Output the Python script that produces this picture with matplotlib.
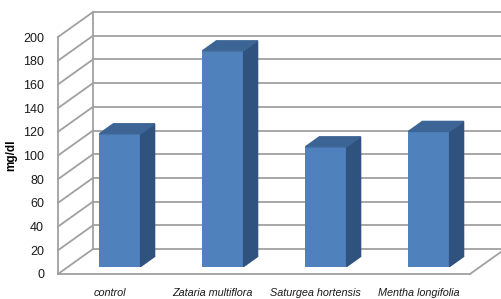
import numpy as np
import matplotlib.pyplot as plt
from matplotlib.patches import Polygon

# data
categories = ['control', 'Zataria multiflora', 'Saturgea hortensis', 'Mentha longifolia']
values = [112, 182, 101, 114]
y_ticks = [0, 20, 40, 60, 80, 100, 120, 140, 160, 180, 200]

plt.rcParams['font.family'] = ['Liberation Sans', 'DejaVu Sans']

W, H = 501, 299
fig = plt.figure(figsize=(W / 100, H / 100), dpi=100)
# front plane of the 3d box
ax = fig.add_axes([58 / W, (H - 274) / H, 412 / W, (274 - 37) / H])
ax.set_xlim(0, 4)
ax.set_ylim(0, 200)

# oblique depth vector (category units, value units)
depth_dx = 35 / 103
depth_dy = 25 / 1.185

grid_c = '#a0a0a0'
lw = 1.3

# back wall horizontal lines + diagonals on the left side wall
for v in y_ticks:
    ax.plot([depth_dx, 4.4], [v + depth_dy, v + depth_dy], color=grid_c, lw=lw,
            clip_on=False, zorder=1)
    ax.plot([0, depth_dx], [v, v + depth_dy], color=grid_c, lw=lw, clip_on=False, zorder=1)
# back wall left edge
ax.plot([depth_dx, depth_dx], [depth_dy, 200 + depth_dy], color=grid_c, lw=lw,
        clip_on=False, zorder=1)
# floor right edge
ax.plot([4, 4 + depth_dx], [0, depth_dy], color=grid_c, lw=lw, clip_on=False, zorder=1)

# 3d bars
bar_w = 0.4
f0, f1 = 0.3, 0.7
front_c, top_c, side_c = '#4F81BD', '#3C6494', '#30527E'
x = np.arange(len(categories)) + 0.5
for xi, v in zip(x, values):
    ox, oy = f0 * depth_dx, f0 * depth_dy
    bx, by = (f1 - f0) * depth_dx, (f1 - f0) * depth_dy
    l, r = xi - bar_w / 2 + ox, xi + bar_w / 2 + ox
    b, t = oy, v + oy
    ax.bar(l, v, width=bar_w, bottom=b, align='edge', color=front_c, zorder=3, clip_on=False)
    ax.add_patch(Polygon([[r, b], [r + bx, b + by], [r + bx, t + by], [r, t]],
                         closed=True, color=side_c, zorder=3, clip_on=False))
    ax.add_patch(Polygon([[l, t], [r, t], [r + bx, t + by], [l + bx, t + by]],
                         closed=True, color=top_c, zorder=3, clip_on=False))

# axes styling
for s in ['top', 'right']:
    ax.spines[s].set_visible(False)
for s in ['left', 'bottom']:
    ax.spines[s].set_color(grid_c)
    ax.spines[s].set_linewidth(lw)
ax.set_yticks(y_ticks)
ax.set_xticks(x)
ax.set_xticklabels(categories, fontstyle='italic', fontsize=7.8)
ax.tick_params(axis='y', length=0, pad=10, labelsize=9, labelcolor='#1a1a1a')
ax.tick_params(axis='x', length=0, pad=10, labelcolor='#1a1a1a')
ax.set_ylabel('mg/dl', fontweight='bold', fontsize=8.5, labelpad=4)
ax.patch.set_alpha(0)

fig.savefig('out.png', dpi=100)
